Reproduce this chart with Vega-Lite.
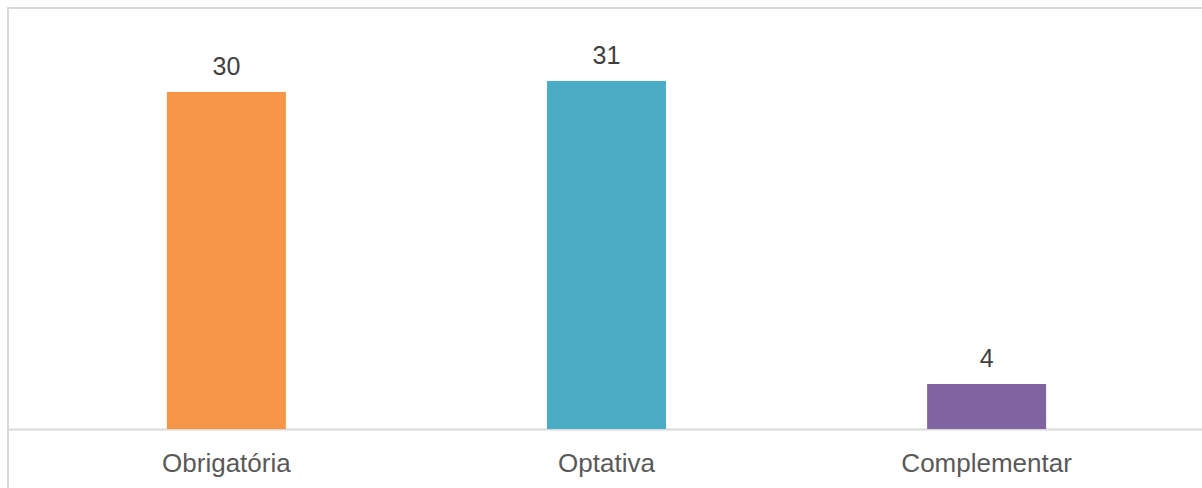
{
  "$schema": "https://vega.github.io/schema/vega-lite/v6.json",
  "width": 1197,
  "height": 490,
  "padding": {"left": 8, "top": 8, "right": 0, "bottom": 0},
  "autosize": {"type": "none"},
  "background": "white",
  "config": {
    "view": {"stroke": "#d9d9d9", "strokeWidth": 2},
    "font": "Liberation Sans"
  },
  "data": {
    "values": [
      {"tipo": "Obrigatória", "valor": 30},
      {"tipo": "Optativa", "valor": 31},
      {"tipo": "Complementar", "valor": 4}
    ]
  },
  "encoding": {
    "x": {
      "field": "tipo",
      "type": "nominal",
      "sort": null,
      "scale": {"paddingInner": 0.687, "paddingOuter": 0.418},
      "axis": {
        "title": null,
        "labelAngle": 0,
        "ticks": false,
        "offset": -69,
        "domainColor": "#d9d9d9",
        "domainWidth": 2,
        "labelFont": "Liberation Sans",
        "labelFontSize": 26,
        "labelColor": "#595959",
        "labelPadding": 21
      }
    },
    "y": {
      "field": "valor",
      "type": "quantitative",
      "scale": {"domain": [-6.144, 37.49], "nice": false, "zero": false},
      "axis": null
    }
  },
  "layer": [
    {
      "mark": {"type": "bar"},
      "encoding": {
        "color": {
          "field": "tipo",
          "type": "nominal",
          "sort": null,
          "scale": {"domain": ["Obrigatória", "Optativa", "Complementar"], "range": ["#F79646", "#4BACC6", "#8064A2"]},
          "legend": null
        }
      }
    },
    {
      "mark": {"type": "text", "baseline": "alphabetic", "dy": -17, "fontSize": 25, "color": "#404040", "font": "Liberation Sans"},
      "encoding": {"text": {"field": "valor", "type": "quantitative"}}
    }
  ]
}
